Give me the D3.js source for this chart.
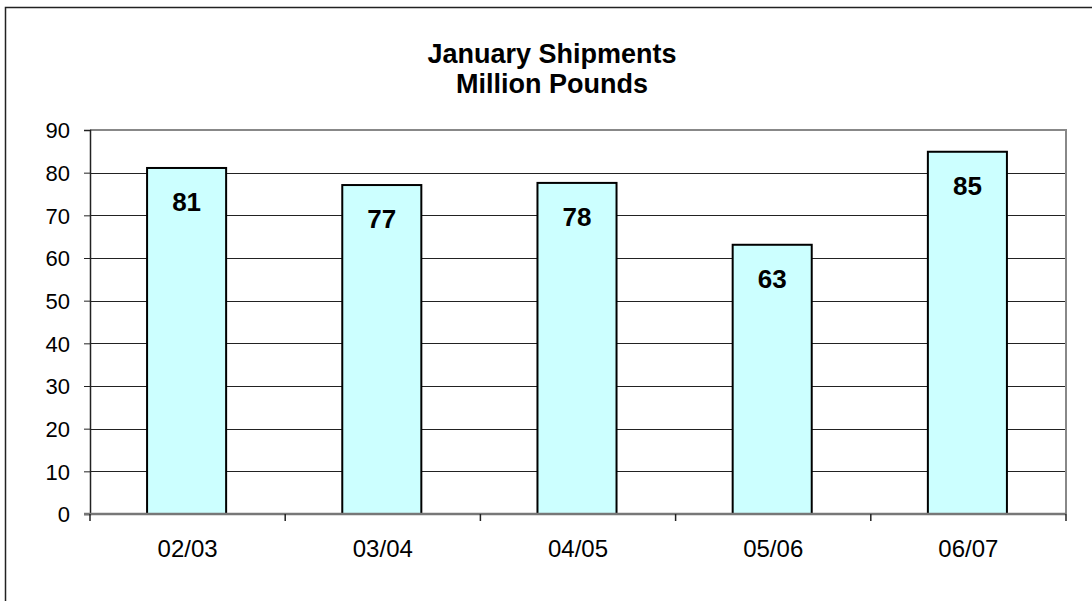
<!DOCTYPE html>
<html>
<head>
<meta charset="utf-8">
<script src="https://d3js.org/d3.v7.min.js"></script>
<style>
  body { margin: 0; background: #fff; }
  svg text { font-family: "Liberation Sans", Arial, sans-serif; }
</style>
</head>
<body>
<div id="chart"></div>
<script>
// data
const seasons = ["02/03", "03/04", "04/05", "05/06", "06/07"];
const shipments = [81.1, 77.1, 77.6, 63.1, 84.9];
const labels = ["81", "77", "78", "63", "85"];
const yTicks = [0, 10, 20, 30, 40, 50, 60, 70, 80, 90];
const titleLines = ["January Shipments", "Million Pounds"];

const width = 1092, height = 601;
const plot = { left: 90, right: 1066, top: 130, bottom: 514 };

const svg = d3.select("#chart")
  .append("svg")
  .attr("width", width)
  .attr("height", height);

// outer frame
svg.append("rect")
  .attr("x", 5.5).attr("y", 7.5)
  .attr("width", 1100).attr("height", 600)
  .attr("fill", "none")
  .attr("stroke", "#222")
  .attr("stroke-width", 1.5);

const x = d3.scaleBand()
  .domain(seasons)
  .range([plot.left, plot.right])
  .paddingInner(0).paddingOuter(0);

const y = d3.scaleLinear()
  .domain([0, 90])
  .range([plot.bottom, plot.top]);

// gridlines
svg.append("g")
  .selectAll("line")
  .data(yTicks.filter(d => d > 0 && d < 90))
  .join("line")
  .attr("x1", plot.left).attr("x2", plot.right)
  .attr("y1", d => Math.round(y(d)) + 0.5)
  .attr("y2", d => Math.round(y(d)) + 0.5)
  .attr("stroke", "#222")
  .attr("stroke-width", 1);

// plot border top/right
svg.append("path")
  .attr("d", `M${plot.left},${plot.top}H${plot.right}V${plot.bottom}`)
  .attr("fill", "none")
  .attr("stroke", "#888")
  .attr("stroke-width", 2);

// bars
const barW = x.bandwidth() * 0.405;
svg.append("g")
  .selectAll("rect")
  .data(shipments)
  .join("rect")
  .attr("x", (d, i) => x(seasons[i]) + x.bandwidth() / 2 - barW / 2 - 1)
  .attr("y", d => y(d))
  .attr("width", barW)
  .attr("height", d => y(0) - y(d))
  .attr("fill", "#CCFFFF")
  .attr("stroke", "#000")
  .attr("stroke-width", 2);

// value labels
svg.append("g")
  .selectAll("text")
  .data(shipments)
  .join("text")
  .attr("x", (d, i) => x(seasons[i]) + x.bandwidth() / 2 - 1)
  .attr("y", d => y(d) + 43)
  .attr("text-anchor", "middle")
  .attr("font-size", 26)
  .attr("font-weight", "bold")
  .text((d, i) => labels[i]);

// y axis
const yAxis = svg.append("g")
  .attr("transform", `translate(${plot.left},0)`)
  .call(d3.axisLeft(y).tickValues(yTicks).tickSize(6).tickPadding(14));
yAxis.select(".domain").attr("stroke", "#222").attr("stroke-width", 1.5);
yAxis.selectAll(".tick line").attr("stroke", "#222");
yAxis.selectAll("text")
  .attr("font-size", 22)
  .attr("fill", "#000")
  .attr("dy", "0.36em");

// x axis
const xAxis = svg.append("g")
  .attr("transform", `translate(0,${plot.bottom})`)
  .call(d3.axisBottom(x).tickSize(0).tickPadding(26));
xAxis.select(".domain").remove();
xAxis.selectAll("text")
  .attr("font-size", 24)
  .attr("fill", "#000")
  .attr("dy", "0.71em");

svg.append("line")
  .attr("x1", plot.left - 6).attr("x2", plot.right)
  .attr("y1", plot.bottom).attr("y2", plot.bottom)
  .attr("stroke", "#777")
  .attr("stroke-width", 2.5);

// boundary ticks
svg.append("g")
  .selectAll("line")
  .data(d3.range(seasons.length + 1))
  .join("line")
  .attr("x1", i => plot.left + i * x.step())
  .attr("x2", i => plot.left + i * x.step())
  .attr("y1", plot.bottom)
  .attr("y2", plot.bottom + 7)
  .attr("stroke", "#222")
  .attr("stroke-width", 1.5);

// title
svg.append("g")
  .selectAll("text")
  .data(titleLines)
  .join("text")
  .attr("x", 552)
  .attr("y", (d, i) => 63 + i * 30)
  .attr("text-anchor", "middle")
  .attr("font-size", 27)
  .attr("font-weight", "bold")
  .text(d => d);
</script>
</body>
</html>
